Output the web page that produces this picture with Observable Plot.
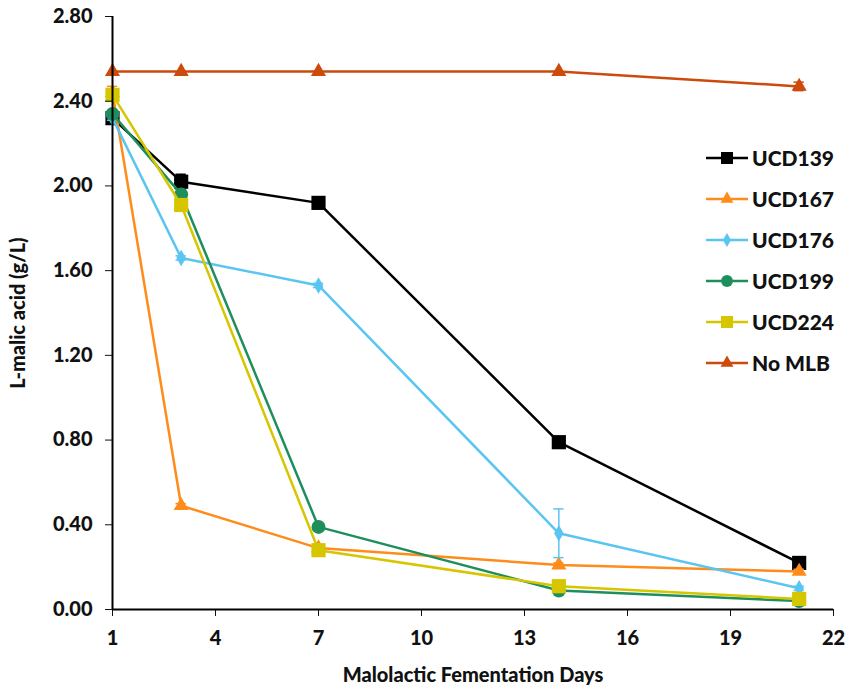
<!DOCTYPE html>
<html>
<head>
<meta charset="utf-8">
<script src="https://cdn.jsdelivr.net/npm/d3@7"></script>
<script src="https://cdn.jsdelivr.net/npm/@observablehq/plot@0.6"></script>
<style>
  body { margin: 0; background: #fff; }
  #wrap { position: relative; width: 851px; height: 691px; font-family: Lato, "Open Sans", sans-serif; }
  #legend { position: absolute; left: 705px; top: 137px; }
  .row { display: flex; align-items: center; height: 41px; font-weight: 900; font-size: 21px; color: #111; }
  .row svg { margin-right: 3px; }
</style>
</head>
<body>
<div id="wrap"><div id="chart"></div><div id="legend"></div></div>
<script>
const days = [1, 3, 7, 14, 21]
const names = ["UCD139", "UCD167", "UCD176", "UCD199", "UCD224", "No MLB"]
const colors = ["#000000", "#FF8C1A", "#5BC5F2", "#1E8F5C", "#D6C600", "#CC4A0C"]
const symbols = ["square", "triangle", "diamond", "circle", "square", "triangle"]
const sizes = [8, 5.6, 5, 7, 8, 5.6]

const ucd139 = [2.32, 2.02, 1.92, 0.79, 0.22]
const ucd167 = [2.44, 0.49, 0.29, 0.21, 0.18]
const ucd176 = [2.32, 1.66, 1.53, 0.36, 0.10]
const ucd199 = [2.34, 1.96, 0.39, 0.09, 0.04]
const ucd224 = [2.43, 1.91, 0.28, 0.11, 0.05]
const noMLB  = [2.54, 2.54, 2.54, 2.54, 2.47]

// standard deviations (only visible ones)
const err139 = [0, 0.035, 0.01, 0.01, 0.01]
const err167 = [0.03, 0.01, 0.01, 0.01, 0.01]
const err176 = [0.01, 0.01, 0.01, 0.115, 0.01]
const err199 = [0, 0, 0, 0, 0]
const err224 = [0, 0, 0, 0, 0]
const errNo  = [0, 0, 0, 0, 0.02]

const values = [ucd139, ucd167, ucd176, ucd199, ucd224, noMLB]
const errors = [err139, err167, err176, err199, err224, errNo]

const xTicks = [1, 4, 7, 10, 13, 16, 19, 22]
const yTicks = [0, 0.4, 0.8, 1.2, 1.6, 2.0, 2.4, 2.8]

const marks = []
names.forEach((name, i) => {
  const rows = days.map((day, j) => ({day, value: values[i][j], sd: errors[i][j]}))
  const withErr = rows.filter(d => d.sd > 0)
  marks.push(
    Plot.ruleX(withErr, {x: "day", y1: d => d.value - d.sd, y2: d => d.value + d.sd, stroke: colors[i], strokeWidth: 1.5}),
    Plot.ruleY(withErr, {y: d => d.value + d.sd, x1: d => d.day - 0.15, x2: d => d.day + 0.15, stroke: colors[i], strokeWidth: 1.5}),
    Plot.ruleY(withErr, {y: d => d.value - d.sd, x1: d => d.day - 0.15, x2: d => d.day + 0.15, stroke: colors[i], strokeWidth: 1.5}),
    Plot.line(rows, {x: "day", y: "value", stroke: colors[i], strokeWidth: 2.5}),
    Plot.dot(rows, {x: "day", y: "value", symbol: symbols[i], r: sizes[i], fill: colors[i], stroke: "none"})
  )
})

const chart = Plot.plot({
  width: 851,
  height: 691,
  marginLeft: 112,
  marginRight: 18,
  marginTop: 16,
  marginBottom: 82,
  style: {fontFamily: "Lato, 'Open Sans', sans-serif", fontSize: "20px", fontWeight: "900", color: "#111", background: "#fff"},
  x: {domain: [1, 22]},
  y: {domain: [0, 2.8]},
  marks: [
    ...marks,
    Plot.axisX({ticks: xTicks, tickSize: 7, tickPadding: 14, label: null}),
    Plot.axisY({ticks: yTicks, tickFormat: d3.format(".2f"), tickSize: 7, tickPadding: 13, label: null}),
    Plot.axisX({ticks: [], label: "Malolactic Fementation Days", labelAnchor: "center", labelArrow: "none", labelOffset: 72}),
    Plot.axisY({ticks: [], label: "L-malic acid (g/L)", labelAnchor: "center", labelArrow: "none", labelOffset: 102}),
    Plot.ruleX([1], {stroke: "#000", strokeWidth: 2}),
    Plot.ruleY([0], {stroke: "#000", strokeWidth: 2})
  ]
})
d3.select("#chart").append(() => chart)

// legend
const legend = d3.select("#legend")
names.forEach((name, i) => {
  const row = legend.append("div").attr("class", "row")
  const svg = row.append("svg").attr("width", 44).attr("height", 20)
  svg.append("line").attr("x1", 1).attr("x2", 43).attr("y1", 10).attr("y2", 10).attr("stroke", colors[i]).attr("stroke-width", 2.5)
  const sym = {square: d3.symbolSquare, triangle: d3.symbolTriangle, diamond: d3.symbolDiamond, circle: d3.symbolCircle}[symbols[i]]
  const r = sizes[i] * 0.85
  svg.append("path").attr("transform", "translate(22,10)").attr("d", d3.symbol(sym, Math.PI * r * r)()).attr("fill", colors[i])
  row.append("span").text(name)
})
</script>
</body>
</html>
